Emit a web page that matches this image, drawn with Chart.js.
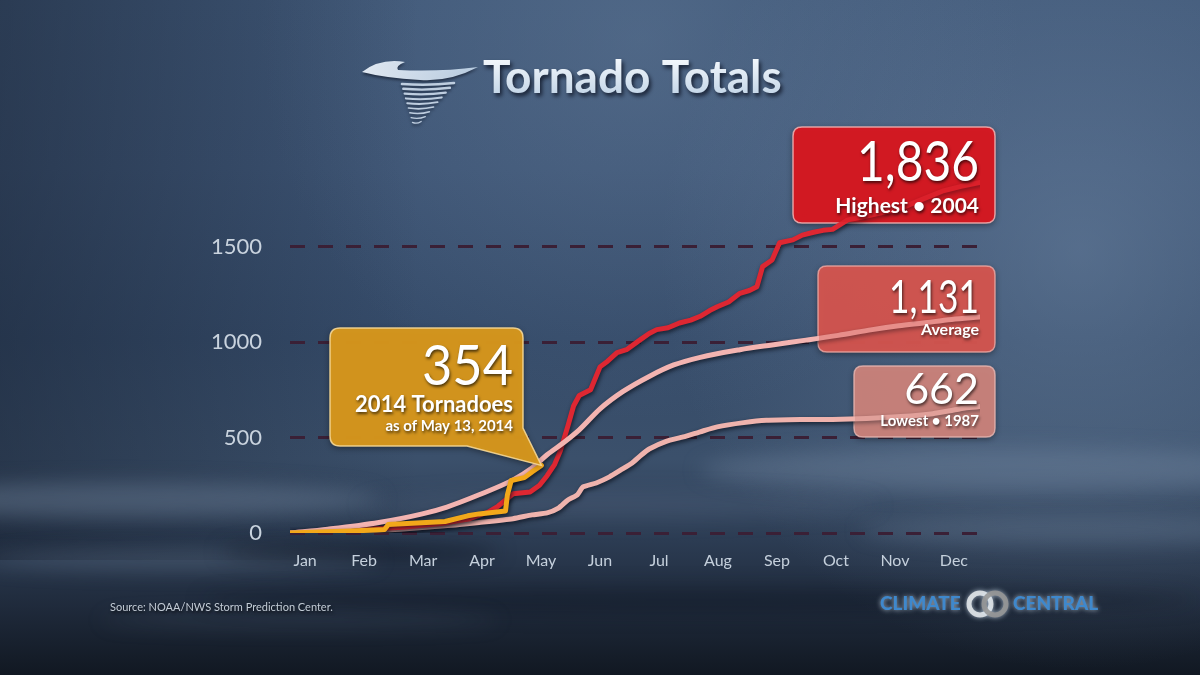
<!DOCTYPE html>
<html>
<head>
<meta charset="utf-8">
<script src="https://cdn.jsdelivr.net/npm/chart.js@4/dist/chart.umd.min.js"></script>
<style>
html,body{margin:0;padding:0;background:#1e2a3a;overflow:hidden;}
#wrap{width:1200px;height:675px;position:relative;}
canvas{display:block;}
</style>
</head>
<body>
<div id="wrap"><canvas id="c" width="1200" height="675"></canvas></div>
<script>
// ---------- DATA ----------
const months = ['Jan','Feb','Mar','Apr','May','Jun','Jul','Aug','Sep','Oct','Nov','Dec'];
const yTickValues = [0, 500, 1000, 1500];

// Highest year (2004): cumulative count by day of year
const highDays = [0,31,59,80,95,105,110,118,127,132,136,140,143,147,150,153,159,164,168,173,178,185,190,194,200,206,212,217,222,226,232,238,243,247,250,255,259,266,271,277,282,287,295,300,305,314,323,335,345,355,365];
const highVals = [0,15,30,50,75,110,140,205,215,250,300,360,430,560,665,720,750,870,900,945,960,1010,1045,1065,1075,1100,1115,1135,1165,1185,1210,1255,1270,1290,1395,1430,1520,1535,1560,1575,1585,1590,1640,1650,1660,1680,1700,1750,1790,1815,1836];

// Average year
const avgDays = [0,20,47,70,83,100,118,128,136,145,153,164,176,190,203,217,238,255,273,290,308,322,335,350,365];
const avgVals = [0,20,55,100,136,200,278,340,410,475,540,650,740,820,880,920,960,985,1010,1035,1065,1085,1100,1118,1131];

// Lowest year (1987)
const lowDays = [0,32,58,85,100,118,128,136,142,147,152,155,162,169,175,181,186,190,199,208,217,226,240,252,270,287,305,323,340,349,357,365];
const lowVals = [0,8,20,40,55,75,95,105,130,173,200,241,262,294,330,367,410,440,480,503,530,556,578,590,594,595,600,610,625,640,655,662];

// 2014 as of May 13
const days2014 = [0,32,50,52,82,94,100,114,115,117,124,128,133];
const vals2014 = [0,10,18,45,60,90,100,115,200,275,290,320,354];

const highLabel = 'Highest • 2004';
const avgLabel = 'Average';
const lowLabel = 'Lowest • 1987';
const curLabel = '2014 Tornadoes';
const curSub = 'as of May 13, 2014';
const titleText = 'Tornado Totals';
const sourceText = 'Source: NOAA/NWS Storm Prediction Center.';

// ---------- helpers ----------
const pts = (d, v) => d.map((x, i) => ({x: x, y: v[i]}));
const fmt = n => n.toLocaleString('en-US');
const FONT = 'Lato, "Open Sans", "DejaVu Sans", sans-serif';

function shadowText(ctx, s, x, y, size, weight, color, align, maxW) {
  ctx.save();
  ctx.font = weight + ' ' + size + 'px ' + FONT;
  ctx.fillStyle = color;
  ctx.textAlign = align || 'left';
  ctx.textBaseline = 'alphabetic';
  ctx.shadowColor = 'rgba(0,0,0,0.65)';
  ctx.shadowBlur = 3;
  ctx.shadowOffsetX = 1;
  ctx.shadowOffsetY = 2;
  if (maxW) ctx.fillText(s, x, y, maxW); else ctx.fillText(s, x, y);
  ctx.restore();
}
function rr(ctx, x, y, w, h, r) {
  ctx.beginPath();
  ctx.moveTo(x + r, y);
  ctx.lineTo(x + w - r, y);
  ctx.quadraticCurveTo(x + w, y, x + w, y + r);
  ctx.lineTo(x + w, y + h - r);
  ctx.quadraticCurveTo(x + w, y + h, x + w - r, y + h);
  ctx.lineTo(x + r, y + h);
  ctx.quadraticCurveTo(x, y + h, x, y + h - r);
  ctx.lineTo(x, y + r);
  ctx.quadraticCurveTo(x, y, x + r, y);
  ctx.closePath();
}

const boxes = [
  {x:793, y:127, w:202, h:96, fill:'rgba(214,24,34,0.95)', over:'rgba(214,24,34,0.45)', stroke:'rgba(245,180,180,0.85)'},
  {x:818, y:266, w:177, h:86, fill:'rgba(212,86,80,0.93)', over:'rgba(212,86,80,0.40)', stroke:'rgba(240,170,165,0.8)'},
  {x:854, y:366, w:141, h:71, fill:'rgba(206,132,124,0.90)', over:'rgba(206,132,124,0.40)', stroke:'rgba(235,185,180,0.8)'}
];

function bubblePath(ctx, tipX, tipY) {
  const x = 330, y = 328, w = 193, h = 118, r = 10;
  ctx.beginPath();
  ctx.moveTo(x + r, y);
  ctx.lineTo(x + w - r, y);
  ctx.quadraticCurveTo(x + w, y, x + w, y + r);
  ctx.lineTo(x + w, y + h - 18);
  ctx.lineTo(tipX, tipY);
  ctx.lineTo(467, y + h);
  ctx.lineTo(x + r, y + h);
  ctx.quadraticCurveTo(x, y + h, x, y + h - r);
  ctx.lineTo(x, y + r);
  ctx.quadraticCurveTo(x, y, x + r, y);
  ctx.closePath();
}

const bgPlugin = {
  id: 'bg',
  beforeDraw(chart) {
    const ctx = chart.ctx, W = 1200, H = 675;
    ctx.save();
    let g = ctx.createLinearGradient(0, 0, 0, H);
    g.addColorStop(0, '#3f5777');
    g.addColorStop(0.25, '#3d5474');
    g.addColorStop(0.5, '#354b69');
    g.addColorStop(0.68, '#3b506b');
    g.addColorStop(0.8, '#2c3c53');
    g.addColorStop(0.9, '#1f2a3b');
    g.addColorStop(1, '#111822');
    ctx.fillStyle = g;
    ctx.fillRect(0, 0, W, H);
    let r = ctx.createRadialGradient(1080, 250, 0, 1080, 250, 420);
    r.addColorStop(0, 'rgba(120,145,175,0.45)');
    r.addColorStop(1, 'rgba(120,145,175,0)');
    ctx.fillStyle = r; ctx.fillRect(0, 0, W, H);
    r = ctx.createRadialGradient(640, 40, 0, 640, 40, 380);
    r.addColorStop(0, 'rgba(110,135,165,0.35)');
    r.addColorStop(1, 'rgba(110,135,165,0)');
    ctx.fillStyle = r; ctx.fillRect(0, 0, W, H);
    let l = ctx.createLinearGradient(0, 0, 420, 0);
    l.addColorStop(0, 'rgba(18,26,40,0.45)');
    l.addColorStop(1, 'rgba(18,26,40,0)');
    ctx.fillStyle = l; ctx.fillRect(0, 0, W, 560);
    ctx.filter = 'blur(10px)';
    const streak = (cx, cy, rx, ry, col) => {
      ctx.fillStyle = col; ctx.beginPath(); ctx.ellipse(cx, cy, rx, ry, 0, 0, Math.PI * 2); ctx.fill();
    };
    streak(120, 500, 260, 18, 'rgba(120,140,165,0.40)');
    streak(180, 560, 200, 10, 'rgba(130,150,175,0.28)');
    streak(1000, 470, 300, 22, 'rgba(120,140,165,0.35)');
    streak(1080, 530, 220, 14, 'rgba(120,140,165,0.28)');
    streak(620, 505, 260, 14, 'rgba(110,130,155,0.18)');
    streak(360, 552, 140, 8, 'rgba(10,15,25,0.55)');
    streak(700, 600, 500, 12, 'rgba(10,15,25,0.35)');
    streak(300, 620, 200, 6, 'rgba(110,130,155,0.2)');
    ctx.filter = 'none';
    ctx.restore();

    drawTornado(ctx);
    ctx.save();
    ctx.font = 'bold 46px ' + FONT;
    ctx.textBaseline = 'alphabetic';
    ctx.shadowColor = 'rgba(10,15,30,0.8)';
    ctx.shadowBlur = 4; ctx.shadowOffsetX = 2; ctx.shadowOffsetY = 3;
    let tg = ctx.createLinearGradient(0, 58, 0, 95);
    tg.addColorStop(0, '#f4f8fc'); tg.addColorStop(1, '#c4d6e8');
    ctx.fillStyle = tg;
    ctx.fillText(titleText, 483, 93, 325);
    ctx.restore();

    shadowText(ctx, sourceText, 110, 611, 11, 'normal', '#c3ccd6', 'left', 250);
    // Climate Central logo
    ctx.save();
    ctx.font = '900 19px ' + FONT;
    ctx.textBaseline = 'middle';
    ctx.shadowColor = 'rgba(220,235,250,0.75)'; ctx.shadowBlur = 5;
    ctx.fillStyle = '#3f88cc';
    ctx.fillText('CLIMATE', 880, 604, 82);
    ctx.fillText('CENTRAL', 1013, 604, 90);
    ctx.lineWidth = 5;
    ctx.strokeStyle = 'rgba(225,228,232,0.9)';
    ctx.beginPath(); ctx.arc(980, 604, 11, 0, Math.PI * 2); ctx.stroke();
    ctx.strokeStyle = 'rgba(150,150,150,0.9)';
    ctx.beginPath(); ctx.arc(995, 604, 11, 0, Math.PI * 2); ctx.stroke();
    ctx.restore();
  }
};

function drawTornado(ctx) {
  ctx.save();
  ctx.lineCap = 'round';
  ctx.shadowColor = 'rgba(10,15,30,0.6)'; ctx.shadowBlur = 3; ctx.shadowOffsetY = 2;
  let g = ctx.createLinearGradient(360, 0, 478, 0);
  g.addColorStop(0, 'rgba(235,242,250,0.95)'); g.addColorStop(1, 'rgba(190,210,230,0.95)');
  ctx.fillStyle = g;
  ctx.beginPath();
  ctx.moveTo(362, 72);
  ctx.quadraticCurveTo(380, 58, 405, 62);
  ctx.quadraticCurveTo(395, 66, 398, 70);
  ctx.quadraticCurveTo(440, 72, 478, 67);
  ctx.quadraticCurveTo(450, 82, 420, 80);
  ctx.quadraticCurveTo(385, 78, 362, 72);
  ctx.fill();
  ctx.strokeStyle = 'rgba(205,220,236,0.9)';
  for (let i = 0; i < 9; i++) {
    const y = 84 + i * 4.8;
    const hw = 26 - i * 2.7;
    const cx = 428 - i * 1.4;
    ctx.lineWidth = 2.6 - i * 0.18;
    ctx.beginPath();
    ctx.moveTo(cx - hw, y);
    ctx.quadraticCurveTo(cx, y + 2, cx + hw, y - 1);
    ctx.stroke();
  }
  ctx.restore();
}

const shadowPlugin = {
  id: 'lineShadow',
  beforeDatasetsDraw(chart) {
    const ctx = chart.ctx;
    ctx.save();
    boxes.forEach(b => {
      ctx.shadowColor = 'rgba(0,0,0,0.45)'; ctx.shadowBlur = 6; ctx.shadowOffsetY = 2;
      rr(ctx, b.x, b.y, b.w, b.h, 9);
      ctx.fillStyle = b.fill; ctx.fill();
      ctx.shadowColor = 'transparent';
      ctx.lineWidth = 1.5; ctx.strokeStyle = b.stroke; ctx.stroke();
    });
    ctx.restore();
    ctx.save();
    ctx.shadowColor = 'rgba(5,10,20,0.7)';
    ctx.shadowBlur = 4;
    ctx.shadowOffsetX = 1;
    ctx.shadowOffsetY = 2;
  },
  afterDatasetsDraw(chart) {
    const ctx = chart.ctx;
    ctx.restore();
    const xs = chart.scales.x, ys = chart.scales.y;
    ctx.save();
    boxes.forEach(b => { rr(ctx, b.x + 1, b.y + 1, b.w - 2, b.h - 2, 8); ctx.fillStyle = b.over; ctx.fill(); });
    ctx.restore();
    shadowText(ctx, fmt(highVals[highVals.length - 1]), 979, 181, 56, 'normal', '#ffffff', 'right', 122);
    shadowText(ctx, highLabel, 979, 213, 21, 'bold', '#ffffff', 'right', 156);
    shadowText(ctx, fmt(avgVals[avgVals.length - 1]), 979, 313, 46, 'normal', '#ffffff', 'right', 90);
    shadowText(ctx, avgLabel, 979, 335, 16, 'bold', '#ffffff', 'right', 62);
    shadowText(ctx, fmt(lowVals[lowVals.length - 1]), 979, 404, 43, 'normal', '#ffffff', 'right', 79);
    shadowText(ctx, lowLabel, 979, 426, 15, 'bold', '#ffffff', 'right', 101);
    const tipX = xs.getPixelForValue(days2014[days2014.length - 1]);
    const tipY = ys.getPixelForValue(vals2014[vals2014.length - 1]);
    ctx.save();
    ctx.shadowColor = 'rgba(0,0,0,0.45)'; ctx.shadowBlur = 6; ctx.shadowOffsetY = 2;
    bubblePath(ctx, tipX, tipY);
    ctx.fillStyle = 'rgba(216,152,28,0.96)'; ctx.fill();
    ctx.shadowColor = 'transparent';
    ctx.lineWidth = 1.5; ctx.strokeStyle = 'rgba(245,215,150,0.9)'; ctx.stroke();
    ctx.restore();
    shadowText(ctx, fmt(vals2014[vals2014.length - 1]), 513, 385, 56, 'normal', '#ffffff', 'right', 91);
    shadowText(ctx, curLabel, 513, 412, 22, 'bold', '#ffffff', 'right', 176);
    shadowText(ctx, curSub, 513, 431, 15, 'bold', '#ffffff', 'right', 143);
  }
};

new Chart(document.getElementById('c'), {
  type: 'line',
  data: {
    datasets: [
      {label: '2014', data: pts(days2014, vals2014), borderColor: '#f2a81a', borderWidth: 5, tension: 0, order: 0},
      {label: 'Average', data: pts(avgDays, avgVals), borderColor: '#f3b4b1', borderWidth: 5, tension: 0.4, cubicInterpolationMode: 'monotone', order: 1},
      {label: 'Highest 2004', data: pts(highDays, highVals), borderColor: '#de2732', borderWidth: 5, tension: 0, order: 2},
      {label: 'Lowest 1987', data: pts(lowDays, lowVals), borderColor: '#efb3ad', borderWidth: 5, tension: 0.2, order: 3}
    ]
  },
  options: {
    responsive: false,
    animation: false,
    devicePixelRatio: 1,
    layout: {padding: {left: 190, right: 220, top: 132, bottom: 102}},
    elements: {point: {radius: 0}, line: {borderCapStyle: 'round', borderJoinStyle: 'round'}},
    plugins: {legend: {display: false}, tooltip: {enabled: false}, title: {display: false}},
    scales: {
      x: {
        type: 'linear', min: 0, max: 365,
        afterBuildTicks: s => { s.ticks = months.map((m, i) => ({value: 8 + i * 31.2})); },
        afterFit: s => { s.height = 40; },
        ticks: {
          autoSkip: false, maxRotation: 0, padding: 18,
          color: '#c5d0dc', font: {family: FONT, size: 16},
          callback: (v, i) => months[i]
        },
        grid: {display: false, drawTicks: false},
        border: {display: false}
      },
      y: {
        min: 0, max: 2100,
        afterBuildTicks: s => { s.ticks = yTickValues.map(v => ({value: v})); },
        afterFit: s => { s.width = 100; },
        ticks: {padding: 28, color: '#c9d3de', font: {family: FONT, size: 22}, callback: v => String(v)},
        grid: {color: '#3a2036', lineWidth: 3, drawTicks: false},
        border: {display: false, dash: [15, 13]}
      }
    }
  },
  plugins: [bgPlugin, shadowPlugin]
});
</script>
</body>
</html>
